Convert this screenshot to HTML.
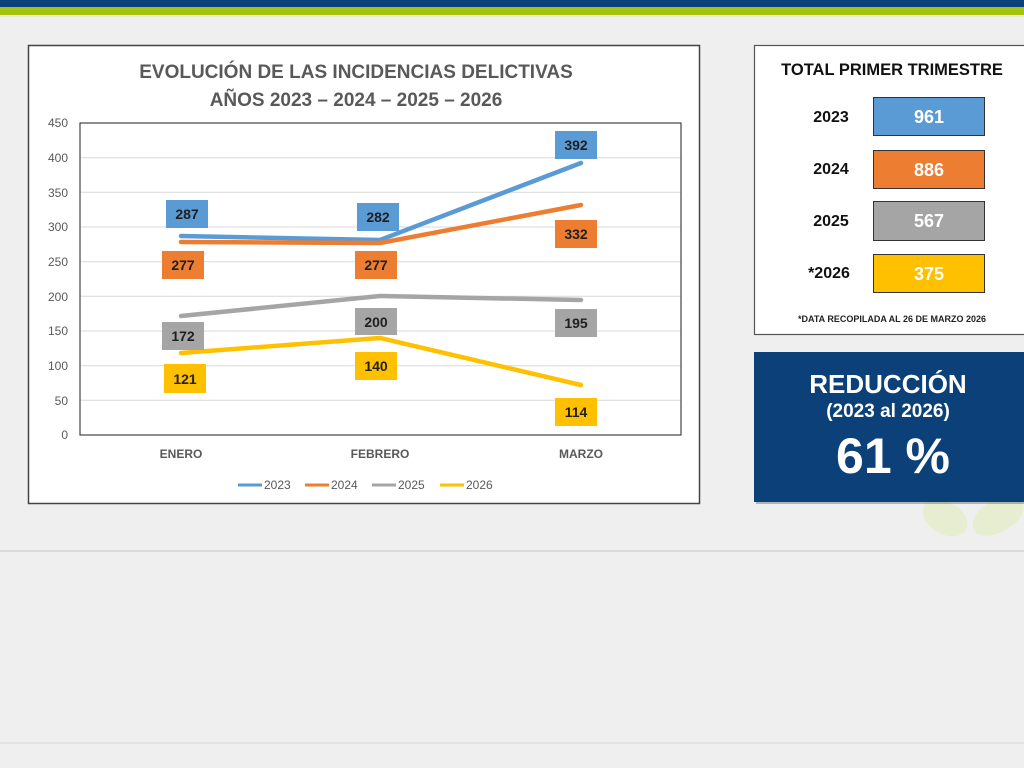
<!DOCTYPE html>
<html><head><meta charset="utf-8"><style>
html,body{margin:0;padding:0;width:1024px;height:768px;overflow:hidden;background:#efefef;font-family:"Liberation Sans",sans-serif}
</style></head><body>
<svg width="1024" height="768" xmlns="http://www.w3.org/2000/svg" font-family="Liberation Sans, sans-serif">
<rect x="0" y="0" width="1024" height="768" fill="#efefef"/>
<rect x="0" y="0" width="1024" height="7" fill="#0b4078"/>
<rect x="0" y="7" width="1024" height="8" fill="#a3c40f"/>
<rect x="0" y="15" width="1024" height="2" fill="#e6eed0"/>
<line x1="0" y1="551" x2="1024" y2="551" stroke="#d3d3d3" stroke-width="1.5"/>
<line x1="0" y1="743" x2="1024" y2="743" stroke="#d8d8d8" stroke-width="1"/>
<!-- leaf -->
<ellipse cx="945" cy="518" rx="24" ry="16" fill="#e6edd0" transform="rotate(30 945 518)"/>
<ellipse cx="998" cy="516" rx="28" ry="16" fill="#e6edd0" transform="rotate(-30 998 516)"/>
<!-- chart box -->
<rect x="28.5" y="45.5" width="671" height="458" fill="#fff" stroke="#444" stroke-width="1.5"/>
<text x="356" y="78" text-anchor="middle" font-size="19" font-weight="bold" fill="#595959">EVOLUCIÓN DE LAS INCIDENCIAS DELICTIVAS</text>
<text x="356" y="106" text-anchor="middle" font-size="19" font-weight="bold" fill="#595959">AÑOS 2023 – 2024 – 2025 – 2026</text>
<g stroke="#d9d9d9" stroke-width="1">
<line x1="80" y1="157.7" x2="681" y2="157.7"/><line x1="80" y1="192.3" x2="681" y2="192.3"/>
<line x1="80" y1="227" x2="681" y2="227"/><line x1="80" y1="261.7" x2="681" y2="261.7"/>
<line x1="80" y1="296.3" x2="681" y2="296.3"/><line x1="80" y1="331" x2="681" y2="331"/>
<line x1="80" y1="365.7" x2="681" y2="365.7"/><line x1="80" y1="400.3" x2="681" y2="400.3"/>
<line x1="80" y1="435" x2="681" y2="435"/>
</g>
<rect x="80" y="123" width="601" height="312" fill="none" stroke="#444" stroke-width="1.2"/>
<g font-size="12" fill="#595959" text-anchor="end">
<text x="68" y="127">450</text><text x="68" y="162">400</text><text x="68" y="197">350</text>
<text x="68" y="231">300</text><text x="68" y="266">250</text><text x="68" y="301">200</text>
<text x="68" y="335">150</text><text x="68" y="370">100</text><text x="68" y="405">50</text><text x="68" y="439">0</text>
</g>
<g font-size="12" fill="#595959" text-anchor="middle" font-weight="bold">
<text x="181" y="458">ENERO</text><text x="380" y="458">FEBRERO</text><text x="581" y="458">MARZO</text>
</g>
<g fill="none" stroke-width="4.5" stroke-linejoin="round" stroke-linecap="round">
<polyline points="181,236 380,240 581,163" stroke="#5b9bd5"/>
<polyline points="181,242 380,243 581,205" stroke="#ed7d31"/>
<polyline points="181,316 380,296 581,300" stroke="#a5a5a5"/>
<polyline points="181,353 380,338 581,385" stroke="#ffc000"/>
</g>
<g font-size="14" font-weight="bold" fill="#1f1f1f" text-anchor="middle">
<rect x="166" y="200" width="42" height="28" fill="#5b9bd5"/><text x="187" y="219">287</text>
<rect x="162" y="251" width="42" height="28" fill="#ed7d31"/><text x="183" y="270">277</text>
<rect x="162" y="322" width="42" height="28" fill="#a5a5a5"/><text x="183" y="341">172</text>
<rect x="164" y="364" width="42" height="29" fill="#ffc000"/><text x="185" y="384">121</text>
<rect x="357" y="203" width="42" height="28" fill="#5b9bd5"/><text x="378" y="222">282</text>
<rect x="355" y="251" width="42" height="28" fill="#ed7d31"/><text x="376" y="270">277</text>
<rect x="355" y="308" width="42" height="27" fill="#a5a5a5"/><text x="376" y="327">200</text>
<rect x="355" y="352" width="42" height="28" fill="#ffc000"/><text x="376" y="371">140</text>
<rect x="555" y="131" width="42" height="28" fill="#5b9bd5"/><text x="576" y="150">392</text>
<rect x="555" y="220" width="42" height="28" fill="#ed7d31"/><text x="576" y="239">332</text>
<rect x="555" y="309" width="42" height="28" fill="#a5a5a5"/><text x="576" y="328">195</text>
<rect x="555" y="398" width="42" height="28" fill="#ffc000"/><text x="576" y="417">114</text>
</g>
<g stroke-width="3">
<line x1="238" y1="485" x2="262" y2="485" stroke="#5b9bd5"/>
<line x1="305" y1="485" x2="329" y2="485" stroke="#ed7d31"/>
<line x1="372" y1="485" x2="396" y2="485" stroke="#a5a5a5"/>
<line x1="440" y1="485" x2="464" y2="485" stroke="#ffc000"/>
</g>
<g font-size="12" fill="#595959">
<text x="264" y="489">2023</text><text x="331" y="489">2024</text><text x="398" y="489">2025</text><text x="466" y="489">2026</text>
</g>
<!-- right panel -->
<rect x="754.5" y="45.5" width="272" height="289" fill="#fff" stroke="#555" stroke-width="1.2"/>
<text x="892" y="75" text-anchor="middle" font-size="16.5" font-weight="bold" fill="#111">TOTAL PRIMER TRIMESTRE</text>
<g font-size="16" font-weight="bold" fill="#111" text-anchor="middle">
<text x="831" y="122">2023</text><text x="831" y="174">2024</text><text x="831" y="226">2025</text><text x="829" y="278">*2026</text>
</g>
<g stroke="#333" stroke-width="1">
<rect x="873.5" y="97.5" width="111" height="38" fill="#5b9bd5"/>
<rect x="873.5" y="150.5" width="111" height="38" fill="#ed7d31"/>
<rect x="873.5" y="201.5" width="111" height="39" fill="#a5a5a5"/>
<rect x="873.5" y="254.5" width="111" height="38" fill="#ffc000"/>
</g>
<g font-size="18" font-weight="bold" fill="#fff" text-anchor="middle">
<text x="929" y="123">961</text><text x="929" y="176">886</text><text x="929" y="227">567</text><text x="929" y="280">375</text>
</g>
<text x="892" y="322" text-anchor="middle" font-size="9" font-weight="bold" fill="#222">*DATA RECOPILADA AL 26 DE MARZO 2026</text>
<rect x="756" y="354" width="270" height="150" fill="#000" opacity="0.25"/>
<rect x="754" y="352" width="270" height="150" fill="#0b4078"/>
<g fill="#fff" text-anchor="middle" font-weight="bold">
<text x="888" y="393" font-size="26">REDUCCIÓN</text>
<text x="888" y="417" font-size="19">(2023 al 2026)</text>
<text x="893" y="473" font-size="50">61 %</text>
</g>
</svg>
</body></html>
